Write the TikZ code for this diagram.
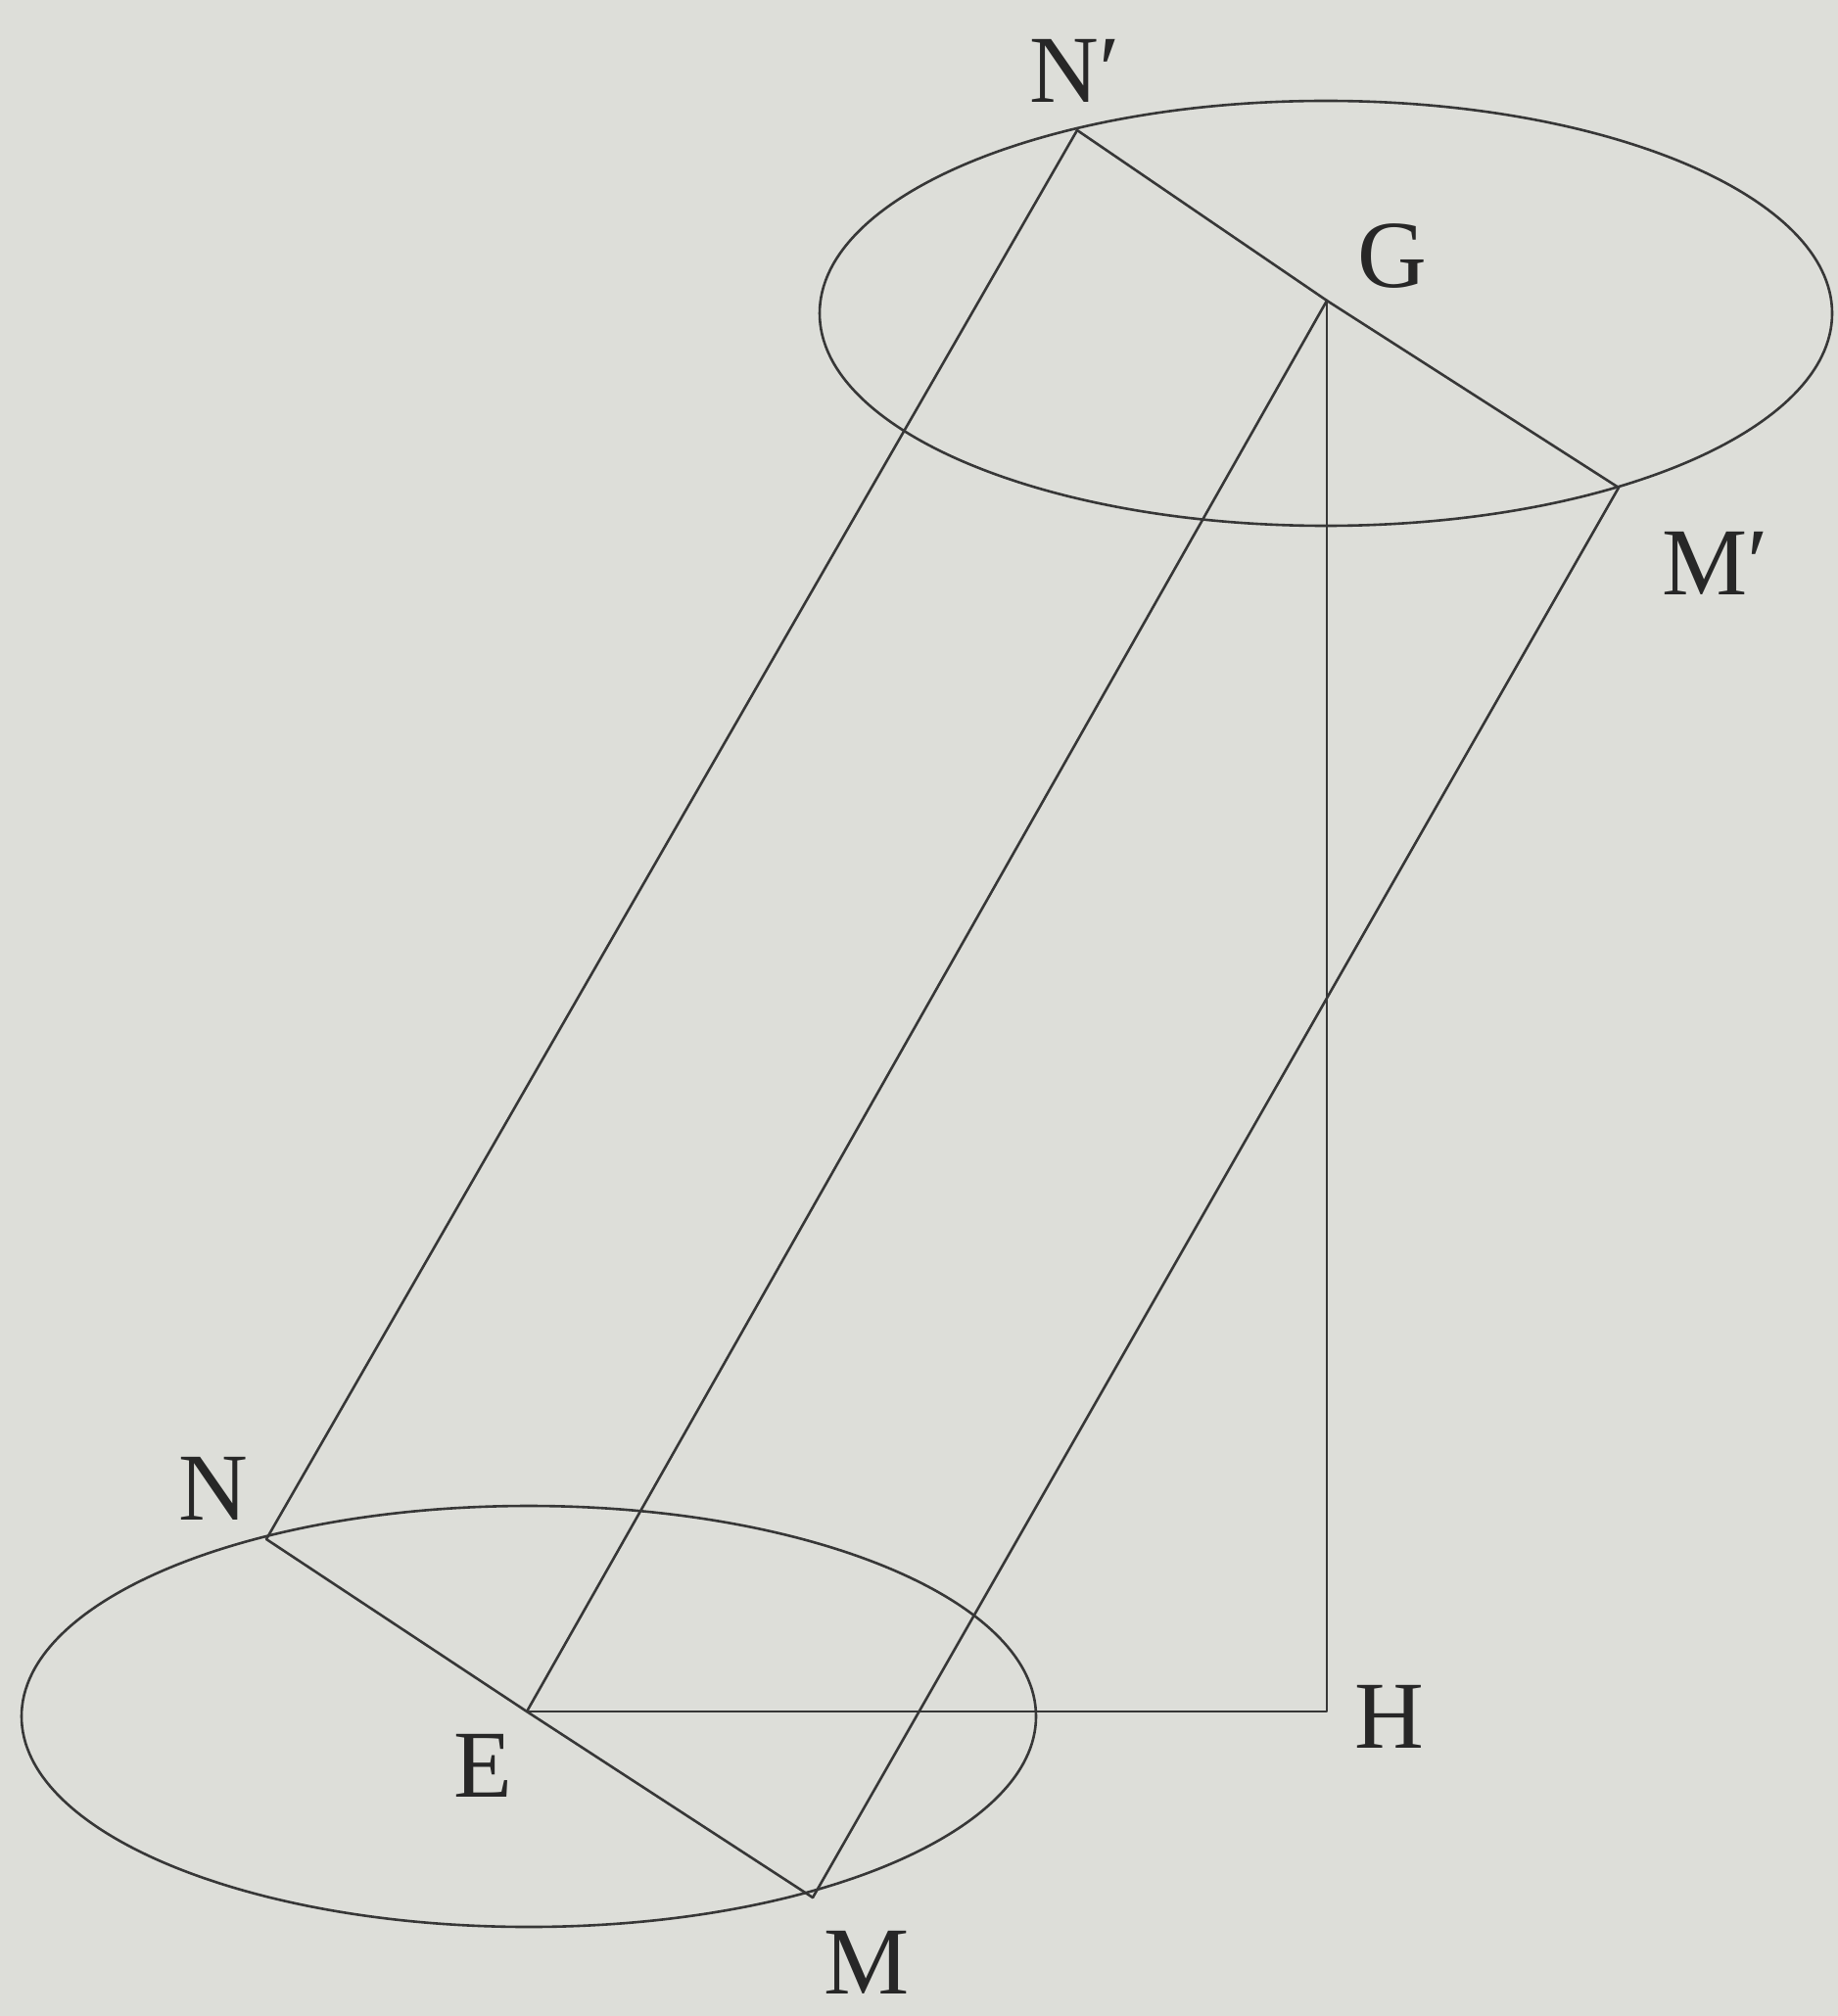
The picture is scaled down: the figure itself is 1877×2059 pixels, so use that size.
\documentclass[tikz,border=0pt]{standalone}
\usepackage{fontspec}
\setmainfont{Liberation Serif}
\definecolor{bg}{RGB}{221,222,217}
\definecolor{ink}{RGB}{55,55,55}
\begin{document}
\begin{tikzpicture}[x=0.5pt,y=-0.5pt,
  edge/.style={draw=ink, line width=1.3pt, line join=round, line cap=round},
  lbl/.style={text=ink!70!black, font=\fontsize{49}{54}\selectfont, inner sep=0pt}]
\fill[bg] (0,0) rectangle (1877,2059);
\useasboundingbox (0,0) rectangle (1877,2059);
% points
\coordinate (Np) at (1100,133);
\coordinate (G)  at (1355,307);
\coordinate (Mp) at (1653,498);
\coordinate (N)  at (272,1572);
\coordinate (E)  at (538,1748);
\coordinate (M)  at (830,1938);
\coordinate (H)  at (1355,1748);
\coordinate (Ctop) at (1354,320);
\coordinate (Cbot) at (540,1753);
% ellipses
\draw[edge] (Ctop) ellipse [x radius=258.5pt, y radius=108.5pt];
\draw[edge] (Cbot) ellipse [x radius=259pt, y radius=107.5pt];
% segments
\draw[edge] (Np) -- (G) -- (Mp);
\draw[edge] (N) -- (E) -- (M);
\draw[edge] (Np) -- (N);
\draw[edge] (G) -- (E);
\draw[edge] (Mp) -- (M);
\draw[edge] (G) -- (H) -- (E);
% labels
\node[lbl] (lNp) at (1098,72) {N′};
\node[lbl] (lG)  at (1422,262) {G};
\node[lbl] (lMp) at (1752,575) {M′};
\node[lbl] (lN)  at (218,1520) {N};
\node[lbl] (lE)  at (493,1803) {E};
\node[lbl] (lM)  at (885,2004) {M};
\node[lbl] (lH)  at (1419,1753) {H};
\end{tikzpicture}
\end{document}
